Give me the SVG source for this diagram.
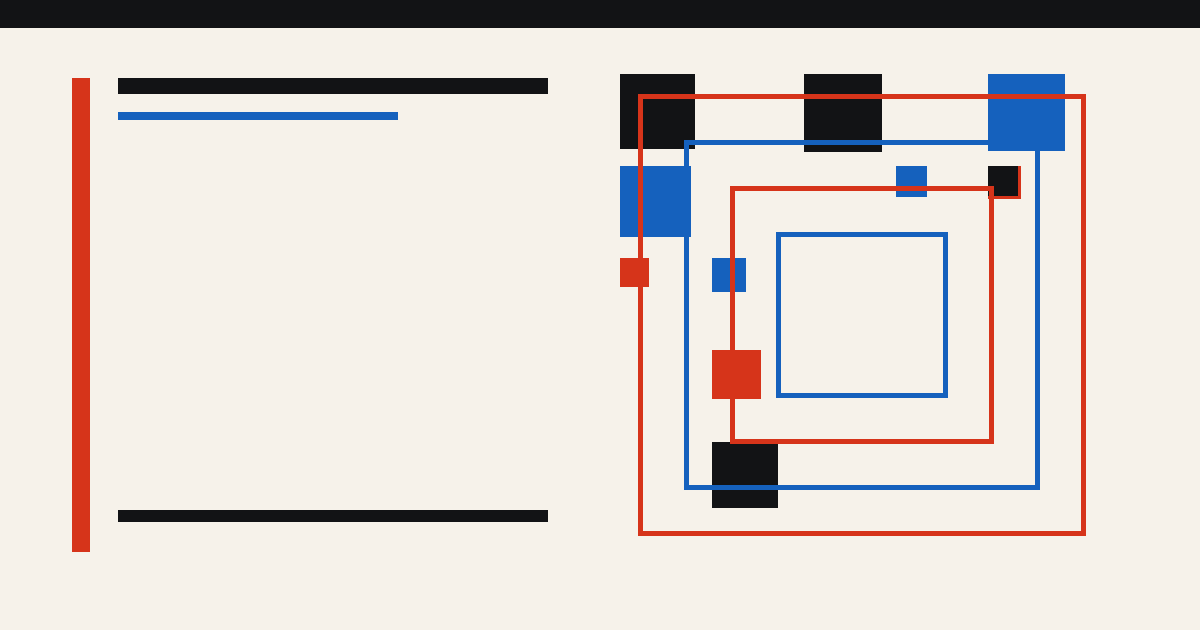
<svg xmlns="http://www.w3.org/2000/svg" width="1200" height="630" viewBox="0 0 1200 630">
<style>
.k{fill:#121315}.r{fill:#D6341A}.b{fill:#1561BD}
.fr{fill:none;stroke:#D6341A;stroke-width:5}
.fb{fill:none;stroke:#1561BD;stroke-width:5}
</style>
<rect width="1200" height="630" fill="#F6F2EA"/>
<rect class="k" x="0" y="0" width="1200" height="28"/>
<g id="left">
<rect class="r" x="72" y="78" width="18" height="474"/>
<rect class="k" x="118" y="78" width="430" height="16"/>
<rect class="b" x="118" y="112" width="280" height="8"/>
<rect class="k" x="118" y="510" width="430" height="12"/>
</g>
<g id="squares">
<rect class="k" x="620" y="74" width="75" height="75"/>
<rect class="k" x="804" y="74" width="78" height="78"/>
<rect class="b" x="988" y="74" width="77" height="77"/>
<rect class="b" x="620" y="166" width="71" height="71"/>
<rect class="b" x="896" y="166" width="31" height="31"/>
<rect class="r" x="988" y="166" width="33" height="33"/>
<rect class="k" x="988" y="166" width="30" height="30"/>
<rect class="r" x="620" y="258" width="29" height="29"/>
<rect class="b" x="712" y="258" width="34" height="34"/>
<rect class="r" x="712" y="350" width="49" height="49"/>
<rect class="k" x="712" y="442" width="66" height="66"/>
</g>
<g id="frames">
<rect class="fr" x="640.5" y="96.5" width="443" height="437"/>
<rect class="fb" x="686.5" y="142.5" width="351" height="345"/>
<rect class="fr" x="732.5" y="188.5" width="259" height="253"/>
<rect class="fb" x="778.5" y="234.5" width="167" height="161"/>
</g>
</svg>
